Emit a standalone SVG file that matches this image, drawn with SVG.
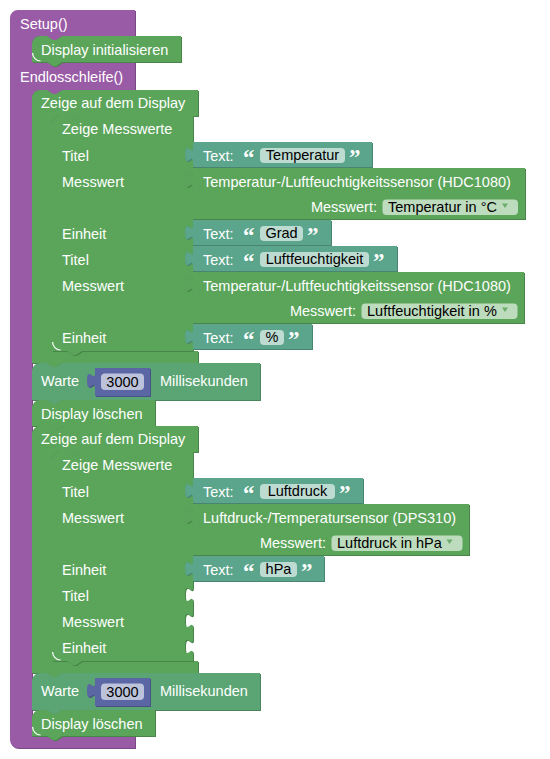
<svg xmlns="http://www.w3.org/2000/svg" xmlns:xlink="http://www.w3.org/1999/xlink" width="550" height="759" viewBox="0 0 550 759">
<style>
text{font-family:"Liberation Sans",Arial,sans-serif;font-size:14.5px;fill:#fff}
text.f{fill:#000}
text.q{font-family:"Liberation Serif","Times New Roman",serif;font-weight:bold;font-size:23px}
.pu{fill:#995ba5}.pud{fill:#7a4984}
.gr{fill:#5ba55b}.grd{fill:#498449}
.te{fill:#5ba58c}.ted{fill:#498470}
.wa{fill:#5ba574}.wad{fill:#49845d}
.nu{fill:#5b67a5}.nud{fill:#495284}
.fld{fill:#fff;fill-opacity:.6}
.arr{fill:#6aad6a}
.hl{fill:none;stroke:#fff;stroke-width:1.2}
</style>
<defs>
<path id="pSetup" d="M 10,18 a8,8 0 0,1 8,-8 H 135 V 36 H 62 l -6,4 h -3 l -6,-4 H 40 a8,8 0 0,0 -8,8 V 54 a8,8 0 0,0 8,8 H 135 V 90 H 62 l -6,4 h -3 l -6,-4 H 40 a8,8 0 0,0 -8,8 V 728 a8,8 0 0,0 8,8 H 135 V 748 H 18 a8,8 0 0,1 -8,-8 Z"/>
<path id="pInit" d="M 32,44 a8,8 0 0,1 8,-8 H 47 l 6,4 h 3 l 6,-4 H 181 V 62 H 62 l -6,4 h -3 l -6,-4 H 32 Z"/>
<path id="pZeige1" d="M 32,98 a8,8 0 0,1 8,-8 H 47 l 6,4 h 3 l 6,-4 H 198 V 116 H 82 l -6,4 h -3 l -6,-4 H 60 a8,8 0 0,0 -8,8 V 343 a8,8 0 0,0 8,8 H 198 V 363 H 62 l -6,4 h -3 l -6,-4 H 32 Z"/>
<path id="pMess1" d="M 52,124 a8,8 0 0,1 8,-8 H 67 l 6,4 h 3 l 6,-4 H 193 V 147 c 0,10 -8,-8 -8,7.5 s 8,-2.5 8,7.5 V 173 c 0,10 -8,-8 -8,7.5 s 8,-2.5 8,7.5 V 225 c 0,10 -8,-8 -8,7.5 s 8,-2.5 8,7.5 V 251 c 0,10 -8,-8 -8,7.5 s 8,-2.5 8,7.5 V 277 c 0,10 -8,-8 -8,7.5 s 8,-2.5 8,7.5 V 329 c 0,10 -8,-8 -8,7.5 s 8,-2.5 8,7.5 V 351 H 82 l -6,4 h -3 l -6,-4 H 52 Z"/>
<path id="pT1" d="M 193,142 H 372 V 167 H 193 V 162 c 0,-10 -8,8 -8,-7.5 s 8,2.5 8,-7.5 Z"/>
<path id="pS1" d="M 193,168 H 525 V 219 H 193 V 188 c 0,-10 -8,8 -8,-7.5 s 8,2.5 8,-7.5 Z"/>
<path id="pT2" d="M 193,220 H 331 V 245 H 193 V 240 c 0,-10 -8,8 -8,-7.5 s 8,2.5 8,-7.5 Z"/>
<path id="pT3" d="M 193,246 H 397 V 271 H 193 V 266 c 0,-10 -8,8 -8,-7.5 s 8,2.5 8,-7.5 Z"/>
<path id="pS2" d="M 193,272 H 524 V 323 H 193 V 292 c 0,-10 -8,8 -8,-7.5 s 8,2.5 8,-7.5 Z"/>
<path id="pT4" d="M 193,324 H 312 V 349 H 193 V 344 c 0,-10 -8,8 -8,-7.5 s 8,2.5 8,-7.5 Z"/>
<path id="pWarte1" d="M 32,371 a8,8 0 0,1 8,-8 H 47 l 6,4 h 3 l 6,-4 H 260 V 400 H 62 l -6,4 h -3 l -6,-4 H 32 Z"/>
<path id="pN1" d="M 95,368 H 150 V 396 H 95 V 388 c 0,-10 -8,8 -8,-7.5 s 8,2.5 8,-7.5 Z"/>
<path id="pDel1" d="M 32,408 a8,8 0 0,1 8,-8 H 47 l 6,4 h 3 l 6,-4 H 155 V 426 H 62 l -6,4 h -3 l -6,-4 H 32 Z"/>
<path id="pZeige2" d="M 32,434 a8,8 0 0,1 8,-8 H 47 l 6,4 h 3 l 6,-4 H 198 V 452 H 82 l -6,4 h -3 l -6,-4 H 60 a8,8 0 0,0 -8,8 V 653 a8,8 0 0,0 8,8 H 198 V 673 H 62 l -6,4 h -3 l -6,-4 H 32 Z"/>
<path id="pMess2" d="M 52,460 a8,8 0 0,1 8,-8 H 67 l 6,4 h 3 l 6,-4 H 193 V 483 c 0,10 -8,-8 -8,7.5 s 8,-2.5 8,7.5 V 509 c 0,10 -8,-8 -8,7.5 s 8,-2.5 8,7.5 V 561 c 0,10 -8,-8 -8,7.5 s 8,-2.5 8,7.5 V 587 c 0,10 -8,-8 -8,7.5 s 8,-2.5 8,7.5 V 613 c 0,10 -8,-8 -8,7.5 s 8,-2.5 8,7.5 V 639 c 0,10 -8,-8 -8,7.5 s 8,-2.5 8,7.5 V 661 H 82 l -6,4 h -3 l -6,-4 H 52 Z"/>
<path id="pT5" d="M 193,478 H 363 V 503 H 193 V 498 c 0,-10 -8,8 -8,-7.5 s 8,2.5 8,-7.5 Z"/>
<path id="pS3" d="M 193,504 H 469 V 555 H 193 V 524 c 0,-10 -8,8 -8,-7.5 s 8,2.5 8,-7.5 Z"/>
<path id="pT6" d="M 193,556 H 324 V 581 H 193 V 576 c 0,-10 -8,8 -8,-7.5 s 8,2.5 8,-7.5 Z"/>
<path id="pWarte2" d="M 32,681 a8,8 0 0,1 8,-8 H 47 l 6,4 h 3 l 6,-4 H 260 V 710 H 62 l -6,4 h -3 l -6,-4 H 32 Z"/>
<path id="pN2" d="M 95,678 H 150 V 706 H 95 V 698 c 0,-10 -8,8 -8,-7.5 s 8,2.5 8,-7.5 Z"/>
<path id="pDel2" d="M 32,718 a8,8 0 0,1 8,-8 H 47 l 6,4 h 3 l 6,-4 H 155 V 736 H 62 l -6,4 h -3 l -6,-4 H 32 Z"/>
</defs>

<g id="setup">
<use xlink:href="#pSetup" class="pud" transform="translate(1,1)"/>
<use xlink:href="#pSetup" class="pu"/>
<text x="20" y="29">Setup()</text>
<text x="20" y="82">Endlosschleife()</text>
</g>

<g id="display-init">
<use xlink:href="#pInit" class="grd" transform="translate(1,1)"/>
<use xlink:href="#pInit" class="gr"/>
<text x="41" y="54.5">Display initialisieren</text>
</g>

<g id="zeige-display-1">
<use xlink:href="#pZeige1" class="grd" transform="translate(1,1)"/>
<use xlink:href="#pZeige1" class="gr"/>
<text x="41" y="108">Zeige auf dem Display</text>
</g>

<g id="messwerte-1">
<use xlink:href="#pMess1" class="grd" transform="translate(1,1)"/>
<use xlink:href="#pMess1" class="gr"/>
<text x="62" y="134">Zeige Messwerte</text>
<text x="62" y="160.5">Titel</text>
<text x="62" y="186.5">Messwert</text>
<text x="62" y="238.5">Einheit</text>
<text x="62" y="264.5">Titel</text>
<text x="62" y="290.5">Messwert</text>
<text x="62" y="342.5">Einheit</text>
</g>

<g id="text-temperatur">
<use xlink:href="#pT1" class="ted" transform="translate(1,1)"/>
<use xlink:href="#pT1" class="te"/>
<text x="203" y="160.5">Text:</text>
<text class="q" x="243" y="164.5">“</text>
<rect class="fld" x="260" y="148" width="85" height="15" rx="4"/>
<text class="f" x="302.5" y="160" text-anchor="middle">Temperatur</text>
<text class="q" x="349" y="164.5">”</text>
</g>

<g id="sensor-hdc-1">
<use xlink:href="#pS1" class="grd" transform="translate(1,1)"/>
<use xlink:href="#pS1" class="gr"/>
<text x="203" y="186.5">Temperatur-/Luftfeuchtigkeitssensor (HDC1080)</text>
<text x="377" y="211.5" text-anchor="end">Messwert:</text>
<rect class="fld" x="382.5" y="199.5" width="135.5" height="15.5" rx="4"/>
<text class="f" x="388" y="211.5">Temperatur in °C</text>
<polygon class="arr" points="502,203.5 508,203.5 505,208"/>
</g>

<g id="text-grad">
<use xlink:href="#pT2" class="ted" transform="translate(1,1)"/>
<use xlink:href="#pT2" class="te"/>
<text x="203" y="238.5">Text:</text>
<text class="q" x="243" y="242.5">“</text>
<rect class="fld" x="260" y="226" width="43" height="15" rx="4"/>
<text class="f" x="281.5" y="238" text-anchor="middle">Grad</text>
<text class="q" x="307" y="242.5">”</text>
</g>

<g id="text-luftfeuchtigkeit">
<use xlink:href="#pT3" class="ted" transform="translate(1,1)"/>
<use xlink:href="#pT3" class="te"/>
<text x="203" y="264.5">Text:</text>
<text class="q" x="243" y="268.5">“</text>
<rect class="fld" x="260" y="252" width="109" height="15" rx="4"/>
<text class="f" x="314.5" y="264" text-anchor="middle">Luftfeuchtigkeit</text>
<text class="q" x="373" y="268.5">”</text>
</g>

<g id="sensor-hdc-2">
<use xlink:href="#pS2" class="grd" transform="translate(1,1)"/>
<use xlink:href="#pS2" class="gr"/>
<text x="203" y="290.5">Temperatur-/Luftfeuchtigkeitssensor (HDC1080)</text>
<text x="356" y="315.5" text-anchor="end">Messwert:</text>
<rect class="fld" x="361.5" y="303.5" width="156" height="15.5" rx="4"/>
<text class="f" x="367" y="315.5">Luftfeuchtigkeit in %</text>
<polygon class="arr" points="502,307.5 508,307.5 505,312"/>
</g>

<g id="text-prozent">
<use xlink:href="#pT4" class="ted" transform="translate(1,1)"/>
<use xlink:href="#pT4" class="te"/>
<text x="203" y="342.5">Text:</text>
<text class="q" x="243" y="346.5">“</text>
<rect class="fld" x="260" y="330" width="24" height="15" rx="4"/>
<text class="f" x="272" y="342" text-anchor="middle">%</text>
<text class="q" x="288" y="346.5">”</text>
</g>

<g id="warte-1">
<use xlink:href="#pWarte1" class="wad" transform="translate(1,1)"/>
<use xlink:href="#pWarte1" class="wa"/>
<text x="41" y="386">Warte</text>
<text x="160" y="386">Millisekunden</text>
</g>

<g id="zahl-1">
<use xlink:href="#pN1" class="nud" transform="translate(1,1)"/>
<use xlink:href="#pN1" class="nu"/>
<rect class="fld" x="101" y="373.5" width="43" height="16.5" rx="4"/>
<text class="f" x="122.5" y="386.5" text-anchor="middle">3000</text>
</g>

<g id="display-loeschen-1">
<use xlink:href="#pDel1" class="grd" transform="translate(1,1)"/>
<use xlink:href="#pDel1" class="gr"/>
<text x="41" y="418.5">Display löschen</text>
</g>

<g id="zeige-display-2">
<use xlink:href="#pZeige2" class="grd" transform="translate(1,1)"/>
<use xlink:href="#pZeige2" class="gr"/>
<text x="41" y="444">Zeige auf dem Display</text>
</g>

<g id="messwerte-2">
<use xlink:href="#pMess2" class="grd" transform="translate(1,1)"/>
<use xlink:href="#pMess2" class="gr"/>
<text x="62" y="470">Zeige Messwerte</text>
<text x="62" y="496.5">Titel</text>
<text x="62" y="522.5">Messwert</text>
<text x="62" y="574.5">Einheit</text>
<text x="62" y="600.5">Titel</text>
<text x="62" y="626.5">Messwert</text>
<text x="62" y="652.5">Einheit</text>
</g>

<g id="text-luftdruck">
<use xlink:href="#pT5" class="ted" transform="translate(1,1)"/>
<use xlink:href="#pT5" class="te"/>
<text x="203" y="496.5">Text:</text>
<text class="q" x="243" y="500.5">“</text>
<rect class="fld" x="260" y="484" width="75" height="15" rx="4"/>
<text class="f" x="297.5" y="496" text-anchor="middle">Luftdruck</text>
<text class="q" x="339" y="500.5">”</text>
</g>

<g id="sensor-dps">
<use xlink:href="#pS3" class="grd" transform="translate(1,1)"/>
<use xlink:href="#pS3" class="gr"/>
<text x="203" y="522.5">Luftdruck-/Temperatursensor (DPS310)</text>
<text x="326" y="547.5" text-anchor="end">Messwert:</text>
<rect class="fld" x="331.5" y="535.5" width="131" height="15.5" rx="4"/>
<text class="f" x="337" y="547.5">Luftdruck in hPa</text>
<polygon class="arr" points="446.5,539.5 452.5,539.5 449.5,544"/>
</g>

<g id="text-hpa">
<use xlink:href="#pT6" class="ted" transform="translate(1,1)"/>
<use xlink:href="#pT6" class="te"/>
<text x="203" y="574.5">Text:</text>
<text class="q" x="243" y="578.5">“</text>
<rect class="fld" x="260" y="562" width="37" height="15" rx="4"/>
<text class="f" x="278.5" y="574" text-anchor="middle">hPa</text>
<text class="q" x="301" y="578.5">”</text>
</g>

<g id="warte-2">
<use xlink:href="#pWarte2" class="wad" transform="translate(1,1)"/>
<use xlink:href="#pWarte2" class="wa"/>
<text x="41" y="696">Warte</text>
<text x="160" y="696">Millisekunden</text>
</g>

<g id="zahl-2">
<use xlink:href="#pN2" class="nud" transform="translate(1,1)"/>
<use xlink:href="#pN2" class="nu"/>
<rect class="fld" x="101" y="683.5" width="43" height="16.5" rx="4"/>
<text class="f" x="122.5" y="696.5" text-anchor="middle">3000</text>
</g>

<g id="display-loeschen-2">
<use xlink:href="#pDel2" class="grd" transform="translate(1,1)"/>
<use xlink:href="#pDel2" class="gr"/>
<text x="41" y="728.5">Display löschen</text>
</g>

<g id="corner-highlights">
<path class="hl" d="M 32.6,53 a8,8 0 0,0 8,8"/>
<path class="hl" d="M 32.6,727 a8,8 0 0,0 8,8"/>
<path class="hl" d="M 52.6,342 a8,8 0 0,0 8,8"/>
<path class="hl" d="M 52.6,652 a8,8 0 0,0 8,8"/>
</g>
</svg>
